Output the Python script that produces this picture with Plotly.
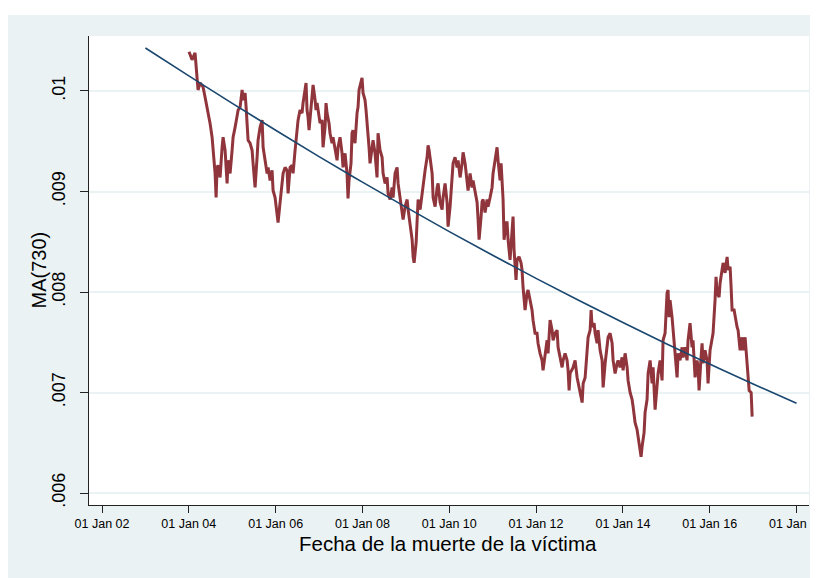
import plotly.graph_objects as go
import pandas as pd

# Moving average MA(730) readings: decimal year, value
ma_year = [
2004.005,2004.028,2004.074,2004.143,2004.189,2004.212,2004.258,2004.327,2004.373,2004.419,
2004.442,2004.488,2004.535,2004.558,2004.604,2004.627,2004.650,2004.673,2004.719,2004.765,
2004.788,2004.834,2004.880,2004.903,2004.949,2004.995,2005.018,2005.065,2005.111,2005.134,
2005.180,2005.226,2005.249,2005.295,2005.318,2005.341,2005.364,2005.410,2005.456,2005.479,
2005.525,2005.571,2005.594,2005.641,2005.687,2005.710,2005.756,2005.802,2005.825,2005.871,
2005.917,2005.940,2005.986,2006.032,2006.055,2006.101,2006.147,2006.171,2006.217,
2006.263,2006.286,2006.332,2006.378,2006.401,2006.447,2006.493,2006.516,2006.562,2006.608,
2006.631,2006.677,2006.700,2006.723,2006.746,2006.769,2006.816,2006.839,2006.862,2006.908,
2006.931,2006.954,2007.000,2007.023,2007.069,2007.092,2007.138,2007.161,2007.184,2007.230,
2007.253,2007.299,2007.322,2007.369,2007.415,2007.438,2007.484,2007.530,2007.553,2007.599,
2007.645,2007.668,2007.691,2007.737,2007.760,2007.783,2007.829,2007.876,2007.899,2007.922,
2007.968,2007.991,2008.014,2008.060,2008.083,2008.106,2008.152,2008.175,2008.221,2008.244,
2008.290,2008.336,2008.359,2008.405,
2008.452,2008.475,2008.521,2008.567,2008.590,2008.636,2008.682,2008.705,2008.751,2008.797,
2008.820,2008.866,2008.912,2008.935,2008.981,2009.028,2009.051,2009.097,2009.143,2009.166,
2009.189,2009.235,2009.258,2009.281,2009.327,2009.373,2009.396,2009.442,2009.488,2009.511,
2009.534,2009.581,2009.604,2009.627,2009.673,2009.719,2009.742,2009.788,2009.834,2009.857,
2009.903,2009.949,2009.972,2010.018,2010.064,2010.087,2010.133,2010.180,2010.203,2010.249,
2010.295,2010.318,2010.364,2010.410,2010.433,2010.479,
2010.525,2010.548,2010.594,2010.641,2010.664,2010.687,2010.733,2010.756,2010.779,2010.825,
2010.871,2010.894,2010.940,2010.986,2011.009,2011.055,2011.101,2011.124,2011.171,2011.194,
2011.217,2011.240,2011.263,2011.309,2011.332,2011.355,2011.401,2011.447,2011.470,2011.493,
2011.539,2011.562,2011.608,2011.654,2011.677,2011.700,2011.747,2011.793,2011.816,2011.862,
2011.908,2011.931,2011.977,2012.023,2012.046,2012.092,2012.138,2012.161,2012.207,2012.253,
2012.276,2012.323,2012.369,2012.392,2012.438,2012.484,2012.507,2012.553,2012.599,2012.622,
2012.668,2012.714,2012.737,2012.760,2012.783,
2012.852,2012.898,2012.944,2012.967,2013.014,2013.060,2013.083,2013.129,2013.175,2013.198,
2013.244,2013.267,2013.290,2013.336,2013.359,2013.405,2013.428,2013.474,2013.521,2013.544,
2013.590,2013.636,2013.659,2013.705,2013.751,2013.774,2013.820,2013.866,2013.889,2013.935,
2013.981,2014.004,2014.051,2014.097,2014.120,2014.166,2014.212,2014.235,2014.281,2014.327,
2014.350,2014.396,2014.419,2014.442,2014.488,2014.511,2014.557,2014.581,2014.627,2014.673,
2014.696,2014.742,2014.788,2014.811,2014.857,2014.903,2014.926,2014.972,
2015.018,2015.041,2015.064,2015.087,2015.133,2015.157,2015.203,2015.249,2015.272,2015.318,
2015.364,2015.387,2015.433,2015.479,2015.502,2015.548,2015.594,2015.617,2015.664,2015.710,
2015.733,2015.756,2015.802,2015.825,2015.848,2015.894,2015.940,2015.963,2016.009,2016.055,
2016.078,2016.124,2016.147,2016.171,2016.217,2016.240,2016.286,2016.309,2016.355,2016.401,
2016.424,2016.470,2016.493,2016.516,2016.562,2016.585,2016.631,2016.654,2016.700,2016.746,
2016.769,2016.815,2016.862,2016.885,2016.908,2016.954,2016.977,
]
ma_value = [
0.01039,0.01036,0.01031,0.01038,0.01011,0.01001,0.01008,0.01004,0.00994,0.00984,
0.00981,0.00968,0.00954,0.00941,0.00918,0.00894,0.00924,0.00926,0.00914,0.00944,
0.00954,0.00941,0.00908,0.00931,0.00918,0.00941,0.00954,0.00964,0.00974,0.00981,
0.00984,0.01001,0.00991,0.00998,0.00984,0.00971,0.00951,0.00948,0.00941,0.00928,
0.00904,0.00934,0.00951,0.00964,0.00971,0.00944,0.00931,0.00918,0.00924,0.00911,
0.00921,0.00901,0.00894,0.00879,0.00869,0.00889,0.00908,0.00918,0.00924,
0.00921,0.00898,0.00924,0.00926,0.00918,0.00941,0.00961,0.00971,0.00981,0.00978,
0.00988,0.01004,0.01008,0.00981,0.00974,0.00961,0.00984,0.01001,0.01006,0.00991,
0.00981,0.00988,0.00974,0.00968,0.00971,0.00944,0.00964,0.00988,0.00978,0.00968,
0.00958,0.00948,0.00954,0.00941,0.00931,0.00944,0.00954,0.00938,0.00924,0.00938,
0.00918,0.00893,0.00911,0.00928,0.00958,0.00961,0.00948,0.00978,0.00984,0.01001,
0.01008,0.01013,0.00998,0.00991,0.00981,0.00971,0.00944,0.00928,0.00944,0.00951,
0.00938,0.00914,0.00958,0.00941,
0.00934,0.00918,0.00908,0.00914,0.00898,0.00892,0.00904,0.00894,0.00918,0.00924,
0.00908,0.00894,0.00882,0.00872,0.00885,0.00892,0.00882,0.00869,0.00852,0.00835,
0.00829,0.00849,0.00875,0.00892,0.00882,0.00898,0.00911,0.00921,0.00934,0.00946,
0.00941,0.00924,0.00918,0.00894,0.00885,0.00904,0.00908,0.00889,0.00882,0.00894,
0.00908,0.00889,0.00865,0.00885,0.00918,0.00928,0.00934,0.00924,0.00931,0.00914,
0.00928,0.00939,0.00928,0.00911,0.00901,0.00918,
0.00904,0.00911,0.00898,0.00889,0.00872,0.00852,0.00875,0.00890,0.00892,0.00879,
0.00892,0.00885,0.00894,0.00904,0.00918,0.00934,0.00944,0.00931,0.00911,0.00928,
0.00914,0.00892,0.00852,0.00869,0.00869,0.00852,0.00832,0.00855,0.00875,0.00842,
0.00812,0.00832,0.00835,0.00829,0.00822,0.00805,0.00782,0.00799,0.00802,0.00792,
0.00782,0.00772,0.00759,0.00759,0.00749,0.00739,0.00732,0.00722,0.00735,0.00752,
0.00739,0.00772,0.00762,0.00752,0.00759,0.00762,0.00745,0.00735,0.00725,0.00732,
0.00739,0.00732,0.00722,0.00702,0.00719,
0.00725,0.00732,0.00715,0.00709,0.00700,0.00690,0.00709,0.00715,0.00739,0.00755,
0.00762,0.00782,0.00765,0.00769,0.00759,0.00749,0.00762,0.00742,0.00732,0.00705,
0.00729,0.00752,0.00755,0.00759,0.00749,0.00732,0.00719,0.00729,0.00732,0.00725,
0.00735,0.00722,0.00739,0.00725,0.00712,0.00700,0.00693,0.00686,0.00670,0.00663,
0.00656,0.00646,0.00636,0.00646,0.00660,0.00680,0.00693,0.00719,0.00732,0.00709,
0.00725,0.00683,0.00715,0.00719,0.00732,0.00712,0.00752,0.00759,
0.00799,0.00802,0.00775,0.00792,0.00775,0.00762,0.00742,0.00715,0.00739,0.00732,
0.00745,0.00735,0.00745,0.00732,0.00752,0.00769,0.00745,0.00752,0.00715,0.00732,
0.00725,0.00702,0.00735,0.00749,0.00729,0.00742,0.00732,0.00709,0.00742,0.00752,
0.00759,0.00792,0.00815,0.00799,0.00795,0.00809,0.00822,0.00829,0.00819,0.00835,
0.00822,0.00825,0.00805,0.00782,0.00782,0.00775,0.00765,0.00762,0.00742,0.00755,
0.00742,0.00755,0.00725,0.00719,0.00702,0.00700,0.00676,
]

# Fitted trend readings (one per January)
fit_year = [2003, 2004, 2005, 2006, 2007, 2008, 2009, 2010, 2011, 2012,
            2013, 2014, 2015, 2016, 2017, 2018]
fit_value = [0.010428, 0.010151, 0.009877, 0.009609, 0.009347, 0.009093,
             0.008844, 0.008601, 0.008365, 0.008136, 0.007913, 0.007696,
             0.007486, 0.007283, 0.007085, 0.006894]

y_ticks = [0.006, 0.007, 0.008, 0.009, 0.01]
y_tick_text = [".006", ".007", ".008", ".009", ".01"]


def to_dates(years):
    out = []
    for y in years:
        yi = int(y)
        start = pd.Timestamp(year=yi, month=1, day=1)
        end = pd.Timestamp(year=yi + 1, month=1, day=1)
        out.append(start + (end - start) * (y - yi))
    return out


RED = "#90353B"
NAVY = "#1A476F"
BG = "#EAF2F3"

fig = go.Figure()
fig.add_trace(go.Scatter(x=to_dates(ma_year), y=ma_value, mode="lines",
                         line=dict(color=RED, width=3), showlegend=False))
fig.add_trace(go.Scatter(x=to_dates(fit_year), y=fit_value, mode="lines",
                         line=dict(color=NAVY, width=1.6, shape="spline"),
                         showlegend=False))

# page body has an 8px margin, so the figure is sized/offset to compensate
W, H = 810, 570
L, R, T, B = 81, 9, 28, 73
pw, ph = W - L - R, H - T - B

fig.update_layout(
    width=W, height=H,
    margin=dict(l=L, r=R, t=T, b=B, autoexpand=False),
    paper_bgcolor=BG, plot_bgcolor="white",
    font=dict(family="Liberation Sans, Arial, sans-serif", color="black"),
    xaxis=dict(
        type="date",
        range=["2001-09-13", "2018-04-16"],
        tick0="2002-01-01", dtick="M24", tickformat="%d %b %y",
        showgrid=False, zeroline=False,
        showline=True, linecolor="#222222", linewidth=1.3,
        ticks="outside", ticklen=7, tickcolor="#222222", tickwidth=1.3,
        tickfont=dict(size=12.5), ticklabeloverflow="allow",
        automargin=False,
    ),
    yaxis=dict(
        range=[0.005881, 0.010547],
        tickvals=y_ticks, ticktext=y_tick_text,
        tickangle=-90,
        showgrid=True, gridcolor=BG, gridwidth=1.5,
        zeroline=False,
        showline=True, linecolor="#222222", linewidth=1.3,
        ticks="outside", ticklen=8, tickcolor="#222222", tickwidth=1.3,
        tickfont=dict(size=18), ticklabelstandoff=8,
        automargin=False,
    ),
    shapes=[
        dict(type="rect", xref="paper", yref="paper", layer="below",
             x0=-L / pw - 0.01, x1=1 + R / pw + 0.01,
             y0=1 + (T - 7) / ph, y1=1 + T / ph + 0.01,
             fillcolor="white", line=dict(width=0)),
    ],
    annotations=[
        dict(text="MA(730)", xref="paper", yref="paper",
             x=(30 - L) / pw, y=0.5, textangle=-90, showarrow=False,
             xanchor="center", yanchor="middle", font=dict(size=20)),
        dict(text="Fecha de la muerte de la víctima", xref="paper", yref="paper",
             x=(440 - L) / pw, y=-(535 - (T + ph)) / ph, showarrow=False,
             xanchor="center", yanchor="middle", font=dict(size=20.5)),
    ],
)

fig.write_html("out.html")
